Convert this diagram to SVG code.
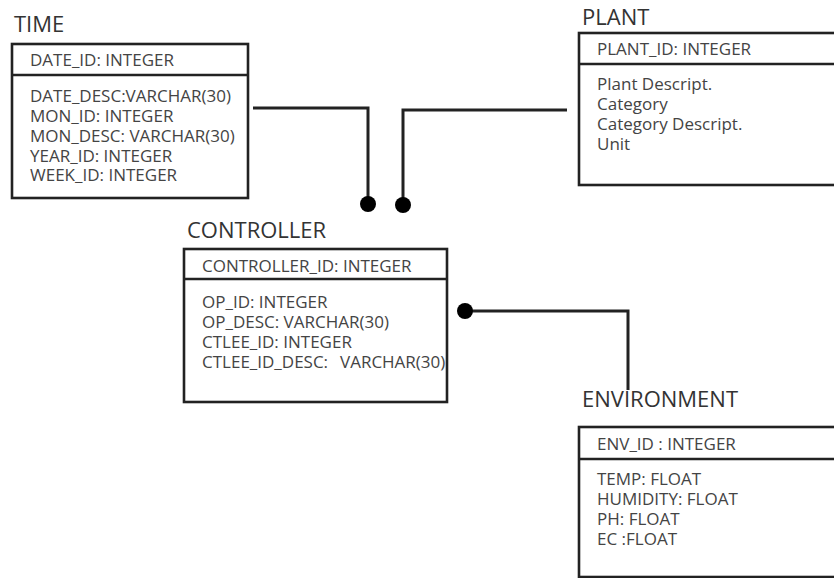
<svg xmlns="http://www.w3.org/2000/svg" width="834" height="578" viewBox="0 0 834 578">
  <style>
    .title { font-family: "Open Sans", "Noto Sans", sans-serif; font-size: 22px; fill: #333; }
    .field { font-family: "Open Sans", "Noto Sans", sans-serif; font-size: 17px; fill: #444; }
    .box { fill: #fff; stroke: #222; stroke-width: 2.6; }
    .rule { stroke: #222; stroke-width: 2.6; }
    .wire { fill: none; stroke: #222; stroke-width: 3; }
    .end { fill: #000; }
  </style>
  <rect width="834" height="578" fill="#fff"/>

  <!-- TIME table -->
  <g id="time">
    <text class="title" x="14" y="32">TIME</text>
    <rect class="box" x="12" y="44" width="236" height="154"/>
    <line class="rule" x1="12" y1="75" x2="248" y2="75"/>
    <text class="field" x="30" y="66">DATE_ID: INTEGER</text>
    <text class="field" x="30" y="102">DATE_DESC:VARCHAR(30)</text>
    <text class="field" x="30" y="122">MON_ID: INTEGER</text>
    <text class="field" x="30" y="142">MON_DESC: VARCHAR(30)</text>
    <text class="field" x="30" y="162">YEAR_ID: INTEGER</text>
    <text class="field" x="30" y="181">WEEK_ID: INTEGER</text>
  </g>

  <!-- PLANT table -->
  <g id="plant">
    <text class="title" x="582" y="25">PLANT</text>
    <rect class="box" x="579" y="33" width="300" height="152"/>
    <line class="rule" x1="579" y1="64" x2="879" y2="64"/>
    <text class="field" x="597" y="55">PLANT_ID: INTEGER</text>
    <text class="field" x="597" y="90">Plant Descript.</text>
    <text class="field" x="597" y="110">Category</text>
    <text class="field" x="597" y="130">Category Descript.</text>
    <text class="field" x="597" y="150">Unit</text>
  </g>

  <!-- CONTROLLER table -->
  <g id="controller">
    <text class="title" x="187" y="238">CONTROLLER</text>
    <rect class="box" x="184" y="249" width="263" height="153"/>
    <line class="rule" x1="184" y1="279" x2="447" y2="279"/>
    <text class="field" x="202" y="272">CONTROLLER_ID: INTEGER</text>
    <text class="field" x="202" y="308">OP_ID: INTEGER</text>
    <text class="field" x="202" y="328">OP_DESC: VARCHAR(30)</text>
    <text class="field" x="202" y="348">CTLEE_ID: INTEGER</text>
    <text class="field" x="202" y="368">CTLEE_ID_DESC:<tspan x="340">VARCHAR(30)</tspan></text>
  </g>

  <!-- ENVIRONMENT table -->
  <g id="environment">
    <text class="title" x="582" y="407">ENVIRONMENT</text>
    <rect class="box" x="579" y="427" width="300" height="150"/>
    <line class="rule" x1="579" y1="459" x2="879" y2="459"/>
    <text class="field" x="597" y="450">ENV_ID : INTEGER</text>
    <text class="field" x="597" y="485">TEMP: FLOAT</text>
    <text class="field" x="597" y="505">HUMIDITY: FLOAT</text>
    <text class="field" x="597" y="525">PH: FLOAT</text>
    <text class="field" x="597" y="545">EC :FLOAT</text>
  </g>

  <!-- relationships -->
  <g id="connectors">
    <path class="wire" d="M253,108 H368 V203"/>
    <circle class="end" cx="368" cy="204" r="8"/>
    <path class="wire" d="M567,110 H403 V204"/>
    <circle class="end" cx="403" cy="205" r="8"/>
    <path class="wire" d="M465,311 H628 V390"/>
    <circle class="end" cx="465" cy="311" r="8"/>
  </g>
</svg>
